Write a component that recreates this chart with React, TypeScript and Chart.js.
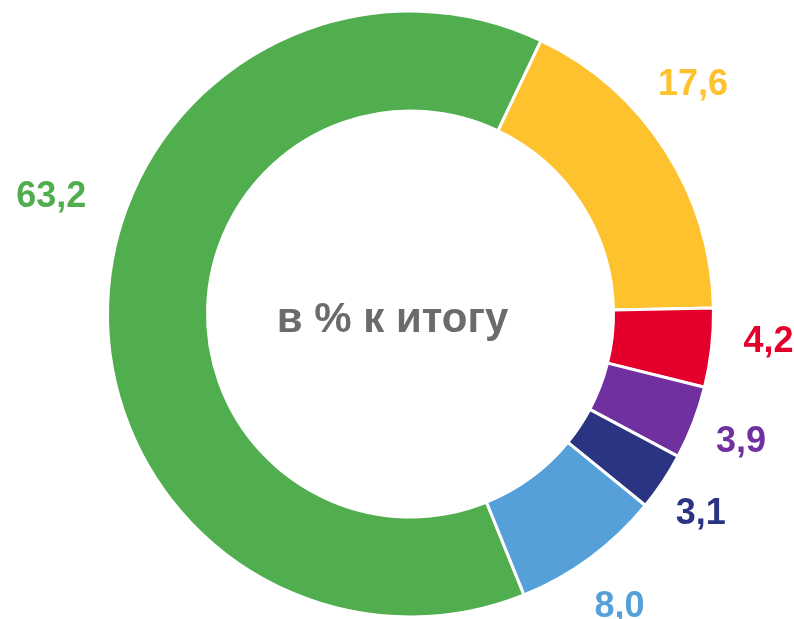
import React, { useEffect, useRef } from "react";
import { Chart, registerables } from "chart.js";

Chart.register(...registerables);

const categories = ["Категория 1", "Категория 2", "Категория 3", "Категория 4", "Категория 5", "Категория 6"];
const shares = [63.2, 17.6, 4.2, 3.9, 3.1, 8.0];
const valueLabels = ["63,2", "17,6", "4,2", "3,9", "3,1", "8,0"];
const sliceColors = ["#50AE4F", "#FEC22E", "#E4002B", "#7030A0", "#2B3482", "#55A0D8"];
const centerTitle = "в % к итогу";

// per-label placement tweaks: [angle shift in degrees, extra radius px]
const labelNudges: Array<[number, number]> = [
  [16.4, 75],
  [-6.3, 61],
  [-2.1, 56],
  [0, 51],
  [0.8, 49],
  [0.8, 56],
];

const labelPlugin = {
  id: "donutLabels",
  afterDatasetsDraw(chart: any) {
    const meta = chart.getDatasetMeta(0);
    const ctx = chart.ctx;
    ctx.save();
    ctx.textAlign = "center";
    ctx.textBaseline = "middle";
    ctx.font = "bold 36px 'Liberation Sans', Arial, sans-serif";
    meta.data.forEach((arc: any, i: number) => {
      const p = arc.getProps(["x", "y", "startAngle", "endAngle", "outerRadius"], true);
      const mid = (p.startAngle + p.endAngle) / 2 + (labelNudges[i][0] * Math.PI) / 180;
      const r = p.outerRadius + labelNudges[i][1];
      ctx.fillStyle = sliceColors[i];
      ctx.fillText(valueLabels[i], p.x + Math.cos(mid) * r, p.y + Math.sin(mid) * r + 1);
    });
    const a0 = meta.data[0];
    ctx.fillStyle = "#6B6B6B";
    ctx.font = "bold 42px 'Liberation Sans', Arial, sans-serif";
    ctx.textBaseline = "alphabetic";
    ctx.fillText(centerTitle, a0.x - 18, a0.y + 18);
    ctx.restore();
  },
};

export default function App() {
  const ref = useRef<HTMLCanvasElement | null>(null);
  useEffect(() => {
    if (!ref.current) return;
    const chart = new Chart(ref.current, {
      type: "doughnut",
      data: {
        labels: categories,
        datasets: [
          {
            data: shares,
            backgroundColor: sliceColors,
            borderColor: "#FFFFFF",
            borderWidth: 3,
          },
        ],
      },
      options: {
        responsive: false,
        animation: false,
        rotation: 158,
        cutout: "67%",
        layout: { padding: { left: 106, right: 79, top: 9, bottom: 0 } },
        plugins: {
          legend: { display: false },
          tooltip: { enabled: false },
        },
      },
      plugins: [labelPlugin],
    });
    return () => chart.destroy();
  }, []);
  return (
    <div style={{ position: "fixed", left: 0, top: 0, width: 794, height: 619, background: "#FFFFFF" }}>
      <canvas ref={ref} width={794} height={619} style={{ display: "block" }} />
    </div>
  );
}
